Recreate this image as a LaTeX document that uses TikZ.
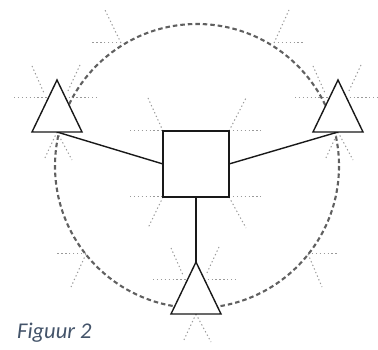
\documentclass[tikz,border=0pt]{standalone}
\usepackage{fontspec}
\newfontfamily\capfont{Carlito}
\definecolor{captionblue}{HTML}{44546A}
\definecolor{guidegray}{HTML}{9A9A9A}
\definecolor{circgray}{HTML}{606060}
\begin{document}
\begin{tikzpicture}[x=1pt,y=-1pt,
  guide/.style={guidegray, line width=1pt, dash pattern=on 1.3pt off 2.6pt},
  orbit/.style={circgray, line width=2.1pt, dash pattern=on 4.5pt off 3pt},
  shapeline/.style={black!90, line width=1.4pt},
  link/.style={black!90, line width=1.4pt},
  boxnode/.style={draw=black!90, line width=1.4pt, fill=white, minimum size=66pt, inner sep=0pt, outer sep=0pt},
  captext/.style={text=captionblue, font=\capfont\itshape\fontsize{22.5}{27}\selectfont, inner sep=0pt, anchor=base west}]
\useasboundingbox (0,0) rectangle (378,350);
\fill[white] (0,0) rectangle (378,350);

% triangle apex coordinates
\coordinate (tlA) at (57,80);
\coordinate (trA) at (338,80);
\coordinate (tbA) at (196,262);

% guide lines around triangles
\foreach \n in {tlA,trA,tbA}{
  \draw[guide] ([shift={(-43,18)}]\n) -- ([shift={(40,18)}]\n);
  \draw[guide] ([shift={(-25,-14)}]\n) -- ([shift={(-13,13)}]\n);
  \draw[guide] ([shift={(23,-15)}]\n) -- ([shift={(10,13)}]\n);
  \draw[guide] ([shift={(0,52)}]\n) -- ([shift={(-13,80)}]\n);
  \draw[guide] ([shift={(0,52)}]\n) -- ([shift={(15,80)}]\n);
}

% guide lines around square
\draw[guide] (130,131) -- (163,131);
\draw[guide] (148,98) -- (163,131);
\draw[guide] (229,131) -- (261,131);
\draw[guide] (229,131) -- (246,98);
\draw[guide] (130,197) -- (163,197);
\draw[guide] (163,197) -- (148,228);
\draw[guide] (229,197) -- (261,197);
\draw[guide] (229,197) -- (246,228);

% guide lines on circle
\draw[guide] (121,43) -- (90,43);
\draw[guide] (121,43) -- (105,10);
\draw[guide] (274,43) -- (304,43);
\draw[guide] (274,43) -- (289,10);
\draw[guide] (86,254) -- (57,254);
\draw[guide] (86,254) -- (71,287);
\draw[guide] (308,254) -- (337,254);
\draw[guide] (308,254) -- (322,287);

% dashed circle
\draw[orbit] (197,166) circle[radius=142];

% square
\node[boxnode] (sq) at (196,164) {};

% triangle base centres
\coordinate (tlB) at ([shift={(0,52)}]tlA);
\coordinate (trB) at ([shift={(0,52)}]trA);

% connectors
\draw[link] (tlB) -- (sq.west);
\draw[link] (trB) -- (sq.east);
\draw[link] (sq.south) -- (tbA);

% triangles
\foreach \n in {tlA,trA,tbA}{
  \filldraw[shapeline, fill=white, line join=miter]
    (\n) -- ([shift={(25,52)}]\n) -- ([shift={(-25,52)}]\n) -- cycle;
}

% caption
\node[captext] (cap) at (17,338) {Figuur 2};
\end{tikzpicture}
\end{document}
